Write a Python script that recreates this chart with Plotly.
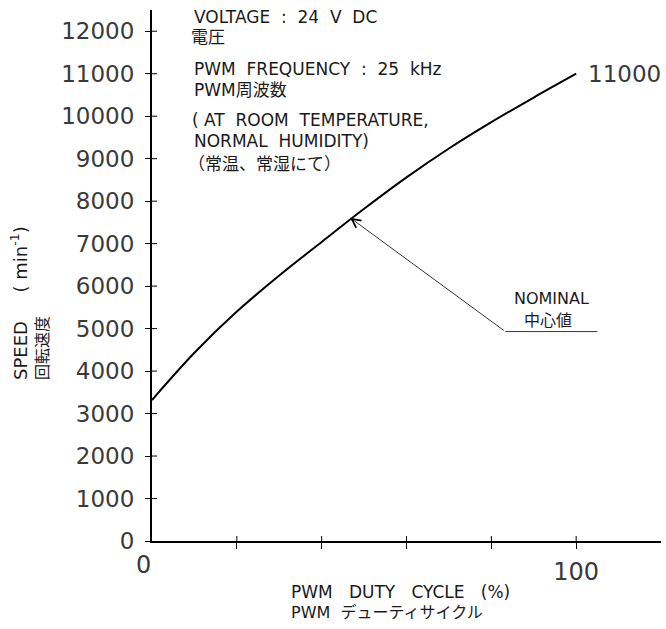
import plotly.graph_objects as go

# ---- data ----
duty = [0, 10, 20, 30, 40, 50, 60, 70, 80, 90, 100]
speed = [3320, 4430, 5400, 6250, 7040, 7820, 8560, 9240, 9860, 10440, 11000]

y_ticks = list(range(0, 12001, 1000))
x_ticks = [20, 40, 60, 80, 100]
x_tick_text = ["", "", "", "", "100"]

nominal_x, nominal_y = 46.7, 7610      # arrow tip on curve
leader_x, leader_y = 83.3, 4930        # knee of leader line
leader_end_x = 105.0

FONT = "DejaVu Sans, Noto Sans CJK JP, sans-serif"
INK = "#1a1a1a"
TICK_INK = "#3a3a3a"

# plot area in pixels
L, T, W, H = 152, 10, 509, 531
FW, FH = 666, 629


def fx(px):
    return (px - L) / W


def fy(py):
    return (T + H - py) / H


NB = "\u00a0"

fig = go.Figure()
fig.add_trace(go.Scatter(
    x=duty, y=speed, mode="lines",
    line=dict(color="black", width=2, shape="spline", smoothing=0.9),
    hoverinfo="skip", showlegend=False,
))

annotations = []

# top notes
notes = [
    (f"VOLTAGE{NB}{NB}:{NB}{NB}24{NB}{NB}V{NB}{NB}DC", 192, 16.5),
    ("電圧", 189, 37),
    (f"PWM{NB}{NB}FREQUENCY{NB}{NB}:{NB}{NB}25{NB}{NB}kHz", 192, 68.5),
    ("PWM周波数", 192, 90),
    (f"({NB}AT{NB}{NB}ROOM{NB}{NB}TEMPERATURE,", 190, 120),
    (f"NORMAL{NB}{NB}HUMIDITY)", 192, 141),
    ("（常温、常湿にて）", 186, 164),
]
for txt, px, py in notes:
    annotations.append(dict(
        text=txt, x=fx(px), y=fy(py), xref="paper", yref="paper",
        xanchor="left", yanchor="middle", showarrow=False,
        font=dict(family=FONT, size=17, color=INK),
    ))

# end value label
annotations.append(dict(
    text="11000", x=duty[-1], y=speed[-1], xref="x", yref="y",
    xanchor="left", yanchor="middle", xshift=10, showarrow=False,
    font=dict(family=FONT, size=23, color=TICK_INK),
))

# x tick label "0"
annotations.append(dict(
    text="0", x=0, y=0, xref="x", yref="y", xanchor="center", yanchor="top",
    xshift=-9, yshift=-8, showarrow=False,
    font=dict(family=FONT, size=24, color=TICK_INK),
))

# nominal label
annotations.append(dict(
    text="NOMINAL", x=fx(551), y=fy(298), xref="paper", yref="paper",
    xanchor="center", yanchor="middle", showarrow=False,
    font=dict(family=FONT, size=16, color=INK),
))
annotations.append(dict(
    text="中心値", x=fx(548), y=fy(320), xref="paper", yref="paper",
    xanchor="center", yanchor="middle", showarrow=False,
    font=dict(family=FONT, size=16, color=INK),
))
annotations.append(dict(
    text="", x=nominal_x, y=nominal_y, xref="x", yref="y",
    ax=leader_x, ay=leader_y, axref="x", ayref="y",
    showarrow=True, arrowhead=5, arrowsize=2.2, arrowwidth=0.8,
    arrowcolor="black",
))

# axis titles
annotations.append(dict(
    text=f"PWM{NB}{NB}{NB}DUTY{NB}{NB}{NB}CYCLE{NB}{NB}{NB}(%)", x=fx(289), y=fy(592),
    xref="paper", yref="paper", xanchor="left", yanchor="middle",
    showarrow=False, font=dict(family=FONT, size=17, color=INK),
))
annotations.append(dict(
    text=f"PWM{NB}{NB}デューティサイクル", x=fx(289), y=fy(612),
    xref="paper", yref="paper", xanchor="left", yanchor="middle",
    showarrow=False, font=dict(family=FONT, size=16, color=INK),
))
annotations.append(dict(
    text=f"SPEED{NB}{NB}{NB}{NB}{NB}({NB}min<sup>-1</sup>)", x=fx(19), y=fy(382),
    xref="paper", yref="paper", xanchor="center", yanchor="bottom",
    textangle=-90, showarrow=False, font=dict(family=FONT, size=18, color=INK),
))
annotations.append(dict(
    text="回転速度", x=fx(42), y=fy(382),
    xref="paper", yref="paper", xanchor="center", yanchor="bottom",
    textangle=-90, showarrow=False, font=dict(family=FONT, size=16, color=INK),
))

shapes = []
# inner halves of ticks (ticks cross the axes)
for v in y_ticks[1:]:
    shapes.append(dict(type="line", xref="paper", yref="y", x0=0, x1=5 / W,
                       y0=v, y1=v, line=dict(color="black", width=1)))
for v in x_ticks:
    shapes.append(dict(type="line", xref="x", yref="paper", x0=v, x1=v,
                       y0=0, y1=5 / H, line=dict(color="black", width=1)))
# leader underline
shapes.append(dict(type="line", xref="x", yref="y", x0=leader_x, x1=leader_end_x,
                   y0=leader_y, y1=leader_y, line=dict(color="black", width=0.8)))

fig.update_layout(
    width=FW, height=FH,
    margin=dict(l=L, r=FW - L - W, t=T, b=FH - T - H, pad=0),
    paper_bgcolor="white", plot_bgcolor="white",
    showlegend=False,
    annotations=annotations, shapes=shapes,
    xaxis=dict(
        range=[0, 120], showgrid=False, zeroline=False,
        showline=True, linecolor="black", linewidth=2,
        ticks="outside", ticklen=6, tickwidth=1, tickcolor="black",
        tickvals=x_ticks, ticktext=x_tick_text,
        tickfont=dict(family=FONT, size=24, color=TICK_INK),
        ticklabelstandoff=2,
    ),
    yaxis=dict(
        range=[0, 12500], showgrid=False, zeroline=False,
        showline=True, linecolor="black", linewidth=2,
        ticks="outside", ticklen=5, tickwidth=1, tickcolor="black",
        tickvals=y_ticks, ticktext=[str(v) for v in y_ticks],
        tickfont=dict(family=FONT, size=23, color=TICK_INK),
        ticklabelstandoff=6,
    ),
)

fig.write_html(
    "out.html",
    config={"displayModeBar": False},
    post_script="document.body.style.margin='0';document.body.style.padding='0';",
)
